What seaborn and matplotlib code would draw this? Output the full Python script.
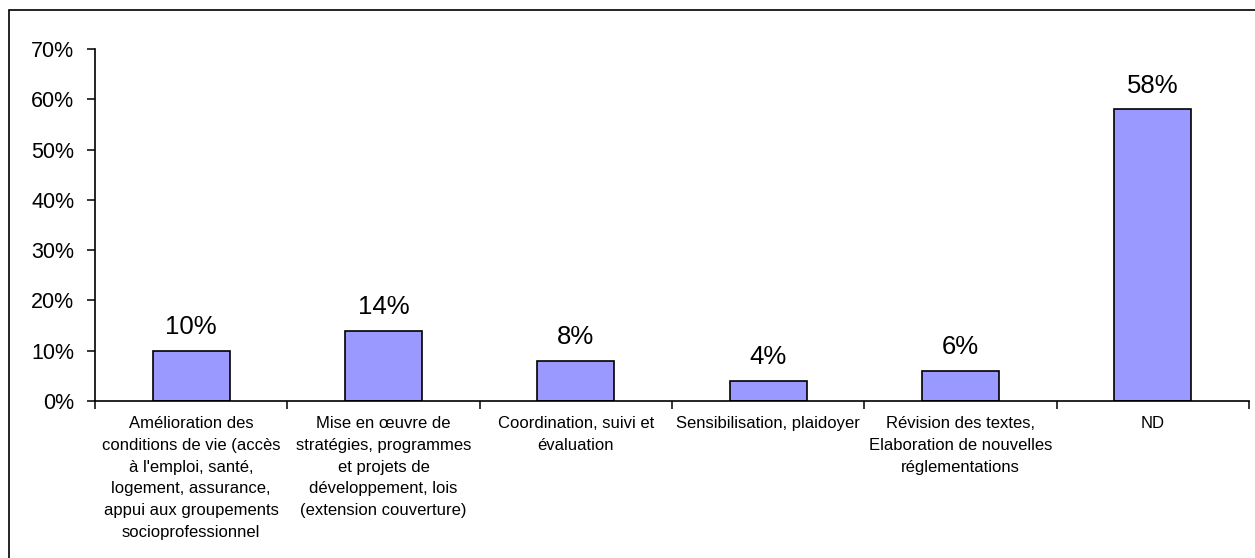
import matplotlib
matplotlib.use("Agg")
import matplotlib.pyplot as plt
import matplotlib.patches as mpatches
from matplotlib.ticker import PercentFormatter, FixedLocator
import seaborn as sns
import pandas as pd

# Domaines d'intervention et parts correspondantes
categories = [
    "Amélioration des\nconditions de vie (accès\nà l'emploi, santé,\nlogement, assurance,\nappui aux groupements\nsocioprofessionnel",
    "Mise en œuvre de\nstratégies, programmes\net projets de\ndéveloppement, lois\n(extension couverture)",
    "Coordination, suivi et\névaluation",
    "Sensibilisation, plaidoyer",
    "Révision des textes,\nElaboration de nouvelles\nréglementations",
    "ND",
]
values = [0.10, 0.14, 0.08, 0.04, 0.06, 0.58]
value_labels = ["10%", "14%", "8%", "4%", "6%", "58%"]

sns.set_theme(style="white")
plt.rcParams["font.family"] = ["Liberation Sans", "DejaVu Sans"]
plt.rcParams["text.color"] = "black"
plt.rcParams["xtick.color"] = "black"
plt.rcParams["ytick.color"] = "black"
plt.rcParams["xtick.labelcolor"] = "black"
plt.rcParams["ytick.labelcolor"] = "black"

W, H = 1255, 558
fig = plt.figure(figsize=(W / 100, H / 100), dpi=100)
ax = fig.add_axes([95 / W, 1 - 401 / H, (1249 - 95) / W, (401 - 49) / H])

df = pd.DataFrame({"cat": categories, "val": values})
sns.barplot(data=df, x="cat", y="val", color="#9999FF", edgecolor="black",
            linewidth=1.2, width=0.4, saturation=1, ax=ax)

ax.set_xlim(-0.5, len(categories) - 0.5)
ax.set_ylim(0, 0.7)
ax.set_xlabel("")
ax.set_ylabel("")

# Axe vertical
ax.yaxis.set_major_locator(FixedLocator([i / 10 for i in range(8)]))
ax.yaxis.set_major_formatter(PercentFormatter(1, decimals=0))
ax.tick_params(axis="y", direction="out", length=6, width=1.1, color="black",
               labelcolor="black", labelsize=15.5, pad=9, left=True)

# Axe horizontal : graduations aux limites, libellés au centre des catégories
n = len(categories)
ax.xaxis.set_major_locator(FixedLocator([i - 0.5 for i in range(n + 1)]))
ax.xaxis.set_minor_locator(FixedLocator(list(range(n))))
ax.set_xticklabels([""] * (n + 1))
ax.set_xticklabels(categories, minor=True)
ax.tick_params(axis="x", which="major", direction="out", length=6, width=1.1,
               color="black", bottom=True)
ax.tick_params(axis="x", which="minor", length=0, labelsize=12, pad=11,
               labelcolor="black")
for lbl in ax.get_xticklabels(minor=True):
    lbl.set_linespacing(1.56)
    lbl.set_horizontalalignment("center")

for side in ("top", "right"):
    ax.spines[side].set_visible(False)
for side in ("left", "bottom"):
    ax.spines[side].set_color("black")
    ax.spines[side].set_linewidth(1.2)

# Valeurs au-dessus des barres
for i, (v, lab) in enumerate(zip(values, value_labels)):
    ax.annotate(lab, xy=(i, v), xytext=(0, 12), textcoords="offset points",
                ha="center", va="baseline", fontsize=18.5, color="black")

# Cadre du graphique
frame = mpatches.Rectangle((9 / W, -0.2), 2, (H - 10) / H + 0.2,
                           transform=fig.transFigure, fill=False,
                           edgecolor="black", linewidth=1.2, clip_on=False)
fig.patches.append(frame)

fig.savefig("out.png", dpi=100)
